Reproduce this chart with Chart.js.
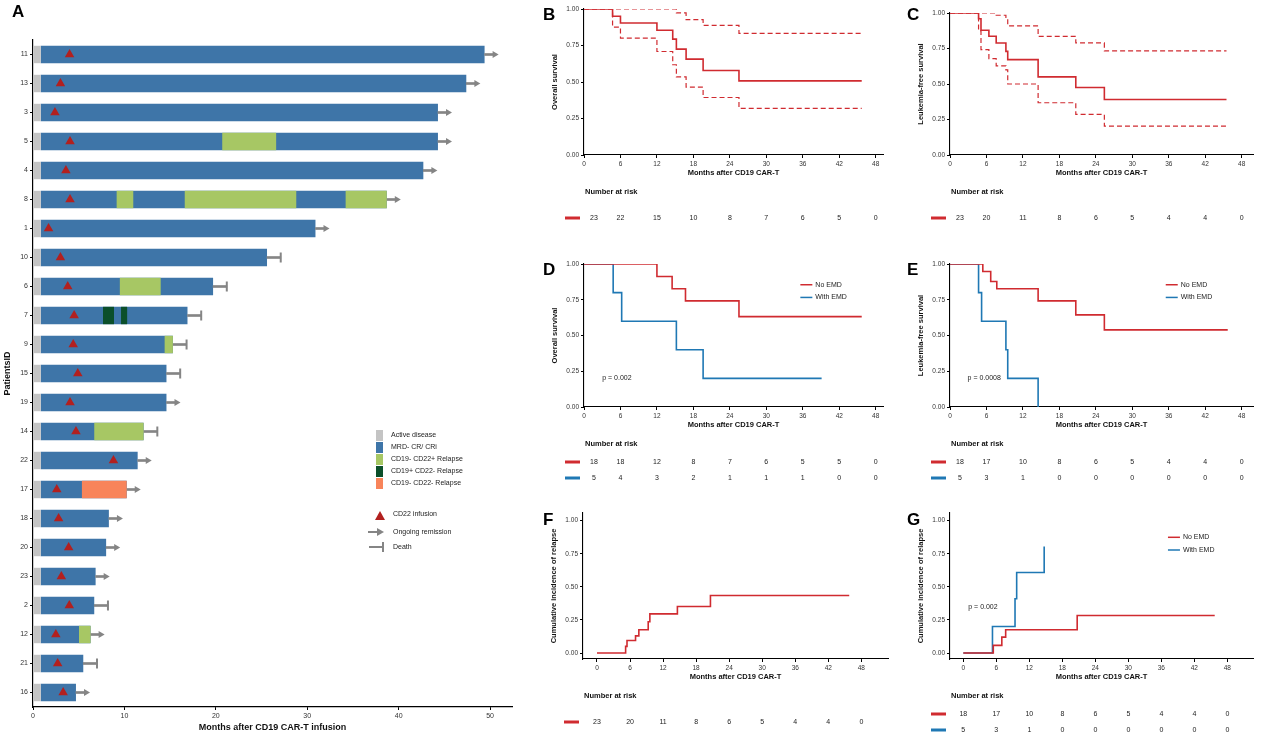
<!DOCTYPE html>
<html>
<head>
<meta charset="utf-8">
<script src="https://cdn.jsdelivr.net/npm/chart.js@4.4.1/dist/chart.umd.min.js"></script>
<style>
  body { margin: 0; background: #fff; width: 1267px; height: 735px; position: relative; overflow: hidden; }
  .panel { position: absolute; }
  .tag { position: absolute; font: bold 17px "Liberation Sans", Arial, sans-serif; color: #000; }
</style>
</head>
<body>
<div class="panel" style="left:0;top:0;width:520px;height:735px"><canvas id="chartA"></canvas></div>
<div class="panel" style="left:540px;top:0;width:350px;height:230px"><canvas id="chartB"></canvas></div>
<div class="panel" style="left:905px;top:0;width:362px;height:230px"><canvas id="chartC"></canvas></div>
<div class="panel" style="left:540px;top:250px;width:350px;height:235px"><canvas id="chartD"></canvas></div>
<div class="panel" style="left:905px;top:250px;width:362px;height:235px"><canvas id="chartE"></canvas></div>
<div class="panel" style="left:540px;top:500px;width:350px;height:235px"><canvas id="chartF"></canvas></div>
<div class="panel" style="left:905px;top:500px;width:362px;height:235px"><canvas id="chartG"></canvas></div>

<div class="tag" style="left:12px;top:2px">A</div>
<div class="tag" style="left:543px;top:5px">B</div>
<div class="tag" style="left:907px;top:5px">C</div>
<div class="tag" style="left:543px;top:260px">D</div>
<div class="tag" style="left:907px;top:260px">E</div>
<div class="tag" style="left:543px;top:510px">F</div>
<div class="tag" style="left:907px;top:510px">G</div>

<script>
// ---- panel A: swimmer plot ----
const patientIds = ['11', '13', '3', '5', '4', '8', '1', '10', '6', '7', '9', '15', '19', '14', '22', '17', '18', '20', '23', '2', '12', '21', '16'];
const followUp = [49.4, 47.4, 44.3, 44.3, 42.7, 38.7, 30.9, 25.6, 19.7, 16.9, 15.3, 14.6, 14.6, 12.1, 11.45, 10.25, 8.3, 8.0, 6.85, 6.7, 6.3, 5.5, 4.7];
const outcome = ['ongoing', 'ongoing', 'ongoing', 'ongoing', 'ongoing', 'ongoing', 'ongoing', 'death', 'death', 'death', 'death', 'death',
  'ongoing', 'death', 'ongoing', 'ongoing', 'ongoing', 'ongoing', 'ongoing', 'death', 'ongoing', 'death', 'ongoing'];
const cd22Infusion = [4.0, 3.0, 2.4, 4.05, 3.6, 4.05, 1.7, 3.0, 3.8, 4.5, 4.4, 4.9, 4.05, 4.7, 8.8, 2.6, 2.8, 3.9, 3.1, 3.97, 2.5, 2.7, 3.3];
const activeDiseaseEnd = 0.85;

const relapseRow = ['5', '8', '8', '8', '6', '7', '7', '9', '14', '17', '12'];
const relapseStart = [20.7, 9.15, 16.6, 34.2, 9.5, 7.66, 9.63, 14.4, 6.7, 5.35, 5.03];
const relapseEnd = [26.6, 10.97, 28.8, 38.7, 13.97, 8.86, 10.3, 15.3, 12.1, 10.25, 6.3];
const relapseType = ['g', 'g', 'g', 'g', 'g', 'd', 'd', 'g', 'g', 'o', 'g'];

// ---- KM panels ----
const riskMonths = [0, 6, 12, 18, 24, 30, 36, 42, 48];

const osTime = [0, 4.7, 6.0, 12.0, 14.6, 15.2, 16.8, 19.6, 25.5, 45.7];
const osSurv = [1, 0.95, 0.904, 0.854, 0.794, 0.725, 0.657, 0.579, 0.508, 0.508];
const osUpper = [1, 1, 1, 1, 1, 0.973, 0.927, 0.888, 0.833, 0.833];
const osLower = [1, 0.876, 0.80, 0.709, 0.618, 0.535, 0.465, 0.394, 0.32, 0.32];
const osRisk = [23, 22, 15, 10, 8, 7, 6, 5, 0];

const lfsTime = [0, 4.7, 5.1, 6.4, 7.6, 9.2, 9.5, 14.5, 20.7, 25.4, 45.5];
const lfsSurv = [1, 0.96, 0.878, 0.836, 0.789, 0.73, 0.672, 0.55, 0.475, 0.391, 0.391];
const lfsUpper = [1, 1, 1, 1, 0.984, 0.96, 0.909, 0.836, 0.789, 0.733, 0.733];
const lfsLower = [1, 0.874, 0.742, 0.679, 0.628, 0.60, 0.50, 0.368, 0.286, 0.204, 0.204];
const lfsRisk = [23, 20, 11, 8, 6, 5, 4, 4, 0];

const osNoEmdTime = [0, 12.0, 14.5, 16.7, 25.5, 45.7];
const osNoEmdSurv = [1, 0.913, 0.827, 0.742, 0.632, 0.632];
const osEmdTime = [0, 4.8, 6.2, 15.2, 19.6, 39.1];
const osEmdSurv = [1, 0.8, 0.6, 0.4, 0.2, 0.2];
const osNoEmdRisk = [18, 18, 12, 8, 7, 6, 5, 5, 0];
const osEmdRisk = [5, 4, 3, 2, 1, 1, 1, 0, 0];

const lfsNoEmdTime = [0, 5.4, 6.7, 7.7, 14.5, 20.7, 25.4, 45.7];
const lfsNoEmdSurv = [1, 0.948, 0.878, 0.827, 0.742, 0.644, 0.539, 0.539];
const lfsEmdTime = [0, 4.7, 5.2, 9.2, 9.5, 14.5];
const lfsEmdSurv = [1, 0.8, 0.6, 0.4, 0.2, 0];
const lfsNoEmdRisk = [18, 17, 10, 8, 6, 5, 4, 4, 0];
const lfsEmdRisk = [5, 3, 1, 0, 0, 0, 0, 0, 0];

const cirTime = [0, 5.2, 5.45, 7.0, 7.6, 9.3, 9.6, 14.6, 20.6, 45.8];
const cirValue = [0, 0.05, 0.095, 0.13, 0.176, 0.236, 0.296, 0.352, 0.435, 0.435];
const cirRisk = [23, 20, 11, 8, 6, 5, 4, 4, 0];

const cirNoEmdTime = [0, 5.45, 7.0, 7.7, 20.7, 45.7];
const cirNoEmdValue = [0, 0.058, 0.12, 0.176, 0.284, 0.284];
const cirEmdTime = [0, 5.3, 9.4, 9.7, 14.7];
const cirEmdValue = [0, 0.2, 0.41, 0.608, 0.804];
const cirNoEmdRisk = [18, 17, 10, 8, 6, 5, 4, 4, 0];
const cirEmdRisk = [5, 3, 1, 0, 0, 0, 0, 0, 0];

const FONT = '"Liberation Sans", Arial, sans-serif';
Chart.defaults.font.family = FONT;
Chart.defaults.color = '#222';

const GREY = '#c4c4c4', BLUE = '#3e75a8', LGREEN = '#a7c764', DGREEN = '#0b4f2a', ORANGE = '#f8845a';
const TRI = '#b2201f', MARK = '#858585';
const RED = '#d02b30', KBLUE = '#1f78b4';
const segColor = { g: LGREEN, d: DGREEN, o: ORANGE };
const markerLen = 1.5;

// legend drawn beside the swimmer bars
const legendA = {
  id: 'legendA',
  afterDraw(chart) {
    const ctx = chart.ctx;
    const items = [
      [GREY, 'Active disease'], [BLUE, 'MRD- CR/ CRi'], [LGREEN, 'CD19- CD22+ Relapse'],
      [DGREEN, 'CD19+ CD22- Relapse'], [ORANGE, 'CD19- CD22- Relapse']
    ];
    ctx.save();
    ctx.font = '7px ' + FONT;
    ctx.textBaseline = 'middle';
    items.forEach(([c, t], i) => {
      const y = 430 + i * 12;
      ctx.fillStyle = c;
      ctx.fillRect(376, y, 7, 11);
      ctx.fillStyle = '#222';
      ctx.fillText(t, 391, y + 5.5);
    });
    // CD22 infusion
    ctx.fillStyle = TRI;
    ctx.beginPath();
    ctx.moveTo(380, 511); ctx.lineTo(385, 520); ctx.lineTo(375, 520); ctx.closePath(); ctx.fill();
    ctx.fillStyle = '#222';
    ctx.fillText('CD22 infusion', 393, 514);
    // ongoing remission
    ctx.strokeStyle = MARK; ctx.lineWidth = 2;
    ctx.beginPath(); ctx.moveTo(368, 532); ctx.lineTo(378, 532); ctx.stroke();
    ctx.fillStyle = MARK;
    ctx.beginPath(); ctx.moveTo(384, 532); ctx.lineTo(377, 528); ctx.lineTo(377, 536); ctx.closePath(); ctx.fill();
    ctx.fillStyle = '#222';
    ctx.fillText('Ongoing remission', 393, 532);
    // death
    ctx.beginPath(); ctx.moveTo(369, 547); ctx.lineTo(383, 547); ctx.moveTo(383, 542); ctx.lineTo(383, 552); ctx.stroke();
    ctx.fillText('Death', 393, 547);
    ctx.restore();
  }
};

const barBase = { grouped: false, barPercentage: 0.6, categoryPercentage: 1.0, borderWidth: 0 };
const datasetsA = [
  { ...barBase, order: 10, label: 'Active disease', data: patientIds.map(() => [0, activeDiseaseEnd]), backgroundColor: GREY },
  { ...barBase, order: 10, label: 'MRD- CR/ CRi', data: followUp.map(f => [activeDiseaseEnd, f]), backgroundColor: BLUE },
  ...relapseRow.map((id, i) => ({
    ...barBase,
    order: 5,
    label: 'relapse ' + i,
    data: patientIds.map(p => (p === id ? [relapseStart[i], relapseEnd[i]] : null)),
    backgroundColor: segColor[relapseType[i]]
  })),
  { ...barBase, order: 6, label: 'connector', barPercentage: undefined, barThickness: 2,
    data: followUp.map((f, i) => [f, f + markerLen - (outcome[i] === 'ongoing' ? 0.4 : 0)]), backgroundColor: MARK },
  { type: 'scatter', order: 0, label: 'CD22 infusion', data: patientIds.map((id, i) => ({ x: cd22Infusion[i], y: id })),
    pointStyle: 'triangle', radius: 5.5, backgroundColor: TRI, borderColor: TRI, borderWidth: 0 },
  { type: 'scatter', order: 1, label: 'Ongoing remission',
    data: patientIds.map((id, i) => ({ x: followUp[i] + markerLen - 0.4, y: id })).filter((_, i) => outcome[i] === 'ongoing'),
    pointStyle: 'triangle', rotation: 90, radius: 4, backgroundColor: MARK, borderColor: MARK, borderWidth: 0 },
  { type: 'scatter', order: 1, label: 'Death',
    data: patientIds.map((id, i) => ({ x: followUp[i] + markerLen, y: id })).filter((_, i) => outcome[i] === 'death'),
    pointStyle: 'line', rotation: 90, radius: 5, borderColor: MARK, borderWidth: 2 }
];

new Chart(document.getElementById('chartA'), {
  type: 'bar',
  data: { labels: patientIds, datasets: datasetsA },
  options: {
    indexAxis: 'y',
    responsive: true, maintainAspectRatio: false, animation: false,
    layout: { padding: { top: 40, right: 8, left: 0, bottom: 0 } },
    plugins: { legend: { display: false }, tooltip: { enabled: false } },
    scales: {
      x: {
        type: 'linear', min: 0, max: 52.4, offset: false,
        afterBuildTicks: s => { s.ticks = [0, 10, 20, 30, 40, 50].map(v => ({ value: v })); },
        afterFit: s => { s.height = 28; },
        grid: { drawOnChartArea: false, tickLength: 3, color: '#000', offset: false },
        border: { display: true, color: '#000', width: 1.2 },
        ticks: { font: { size: 7 }, padding: 2, color: '#333' },
        title: { display: true, text: 'Months after CD19 CAR-T infusion', font: { size: 9, weight: '600' }, padding: { top: 0, bottom: 2 }, color: '#111' }
      },
      y: {
        type: 'category', offset: true,
        afterFit: s => { s.width = 33; },
        grid: { drawOnChartArea: false, tickLength: 3, color: '#000', offset: false },
        border: { display: true, color: '#000', width: 1.2 },
        ticks: { font: { size: 7 }, padding: 2, color: '#333' },
        title: { display: true, text: 'PatientsID', font: { size: 9, weight: 'bold' }, padding: { top: 2, bottom: 0 }, color: '#111' }
      }
    }
  },
  plugins: [legendA]
});

// ---- KM helpers ----
const riskTable = {
  id: 'riskTable',
  afterDraw(chart, args, opts) {
    if (!opts.rows) return;
    const { ctx, chartArea: a, scales: { x } } = chart;
    ctx.save();
    ctx.textBaseline = 'middle';
    ctx.fillStyle = '#111';
    ctx.font = 'bold 7.5px ' + FONT;
    ctx.textAlign = 'left';
    ctx.fillText('Number at risk', a.left + 1, a.bottom + 37);
    const offs = opts.rows.length === 1 ? [63] : [55, 71];
    opts.rows.forEach((r, k) => {
      const y = a.bottom + offs[k];
      ctx.strokeStyle = r.color; ctx.lineWidth = 3;
      ctx.beginPath(); ctx.moveTo(a.left - 19, y); ctx.lineTo(a.left - 4, y); ctx.stroke();
      ctx.font = '7px ' + FONT; ctx.textAlign = 'center'; ctx.fillStyle = '#222';
      r.values.forEach((v, i) => {
        const px = Math.max(x.getPixelForValue(riskMonths[i]), a.left + 10);
        ctx.fillText(String(v), px, y);
      });
    });
    ctx.restore();
  }
};

const kmNotes = {
  id: 'kmNotes',
  afterDraw(chart, args, opts) {
    const { ctx, scales: { x, y } } = chart;
    ctx.save();
    ctx.textBaseline = 'middle';
    ctx.font = '7px ' + FONT;
    ctx.fillStyle = '#222';
    if (opts.items) {
      const x0 = x.getPixelForValue(opts.itemsAt[0]);
      const y0 = y.getPixelForValue(opts.itemsAt[1]);
      opts.items.forEach((it, i) => {
        const yy = y0 + i * 12.7;
        ctx.strokeStyle = it.color; ctx.lineWidth = 1.5;
        ctx.beginPath(); ctx.moveTo(x0, yy); ctx.lineTo(x0 + 12, yy); ctx.stroke();
        ctx.fillText(it.label, x0 + 15, yy);
      });
    }
    if (opts.p) {
      ctx.fillText(opts.p, x.getPixelForValue(opts.pAt[0]), y.getPixelForValue(opts.pAt[1]));
    }
    ctx.restore();
  }
};

function line(t, v, color, dashed) {
  return {
    data: t.map((m, i) => ({ x: m, y: v[i] })),
    borderColor: color, borderWidth: dashed ? 1.2 : 1.6,
    borderDash: dashed ? [5, 3] : [], stepped: true, pointRadius: 0, fill: false
  };
}

function kmChart(id, o) {
  new Chart(document.getElementById(id), {
    type: 'line',
    data: { datasets: o.datasets },
    options: {
      responsive: true, maintainAspectRatio: false, animation: false,
      layout: { padding: o.pad },
      plugins: {
        legend: { display: false }, tooltip: { enabled: false },
        riskTable: { rows: o.risk },
        kmNotes: o.notes || {}
      },
      scales: {
        x: {
          type: 'linear', min: o.xRange[0], max: o.xRange[1],
          afterBuildTicks: s => { s.ticks = riskMonths.map(v => ({ value: v })); },
          afterFit: s => { s.height = 22; },
          grid: { drawOnChartArea: false, tickLength: 3, color: '#000' },
          border: { display: true, color: '#000', width: 1.1 },
          ticks: { font: { size: 6.5 }, padding: 2, color: '#333', maxRotation: 0 },
          title: { display: true, text: 'Months after CD19 CAR-T', font: { size: 7.5, weight: 'bold' }, padding: { top: 0, bottom: 0 }, color: '#111' }
        },
        y: {
          type: 'linear', min: o.yRange[0], max: o.yRange[1],
          afterBuildTicks: s => { s.ticks = [0, 0.25, 0.5, 0.75, 1].map(v => ({ value: v })); },
          afterFit: s => { s.width = 34; },
          grid: { drawOnChartArea: false, tickLength: 3, color: '#000' },
          border: { display: true, color: '#000', width: 1.1 },
          ticks: { font: { size: 6.5 }, padding: 2, color: '#333', callback: v => Number(v).toFixed(2) },
          title: { display: true, text: o.yTitle, font: { size: 7.5, weight: 'bold' }, padding: { top: 0, bottom: 0 }, color: '#111' }
        }
      }
    },
    plugins: [riskTable, kmNotes]
  });
}

const emdItems = [{ label: 'No EMD', color: RED }, { label: 'With EMD', color: KBLUE }];

kmChart('chartB', {
  datasets: [line(osTime, osSurv, RED, false), line(osTime, osUpper, RED, true), line(osTime, osLower, RED, true)],
  pad: { left: 10, top: 9, right: 7, bottom: 53 },
  xRange: [0, 49.2], yRange: [0, 1], yTitle: 'Overall survival',
  risk: [{ color: RED, values: osRisk }]
});

kmChart('chartC', {
  datasets: [line(lfsTime, lfsSurv, RED, false), line(lfsTime, lfsUpper, RED, true), line(lfsTime, lfsLower, RED, true)],
  pad: { left: 11, top: 13, right: 14, bottom: 53 },
  xRange: [0, 49.86], yRange: [0, 1], yTitle: 'Leukemia-free survival',
  risk: [{ color: RED, values: lfsRisk }]
});

kmChart('chartD', {
  datasets: [line(osNoEmdTime, osNoEmdSurv, RED, false), line(osEmdTime, osEmdSurv, KBLUE, false)],
  pad: { left: 10, top: 14, right: 7, bottom: 56 },
  xRange: [0, 49.2], yRange: [0, 1], yTitle: 'Overall survival',
  risk: [{ color: RED, values: osNoEmdRisk }, { color: KBLUE, values: osEmdRisk }],
  notes: { items: emdItems, itemsAt: [35.6, 0.855], p: 'p = 0.002', pAt: [3.0, 0.2] }
});

kmChart('chartE', {
  datasets: [line(lfsNoEmdTime, lfsNoEmdSurv, RED, false), line(lfsEmdTime, lfsEmdSurv, KBLUE, false)],
  pad: { left: 11, top: 14, right: 14, bottom: 56 },
  xRange: [0, 49.86], yRange: [0, 1], yTitle: 'Leukemia-free survival',
  risk: [{ color: RED, values: lfsNoEmdRisk }, { color: KBLUE, values: lfsEmdRisk }],
  notes: { items: emdItems, itemsAt: [35.5, 0.855], p: 'p = 0.0008', pAt: [2.9, 0.2] }
});

kmChart('chartF', {
  datasets: [line(cirTime, cirValue, RED, false)],
  pad: { left: 9, top: 13, right: 2, bottom: 54 },
  xRange: [-2.54, 52.84], yRange: [-0.045, 1.0575], yTitle: 'Cumulative incidence of relapse',
  risk: [{ color: RED, values: cirRisk }]
});

kmChart('chartG', {
  datasets: [line(cirNoEmdTime, cirNoEmdValue, RED, false), line(cirEmdTime, cirEmdValue, KBLUE, false)],
  pad: { left: 11, top: 13, right: 14, bottom: 54 },
  xRange: [-2.42, 52.66], yRange: [-0.045, 1.0575], yTitle: 'Cumulative incidence of relapse',
  risk: [{ color: RED, values: cirNoEmdRisk }, { color: KBLUE, values: cirEmdRisk }],
  notes: { items: emdItems, itemsAt: [37.2, 0.874], p: 'p = 0.002', pAt: [0.9, 0.347] }
});
</script>
</body>
</html>
